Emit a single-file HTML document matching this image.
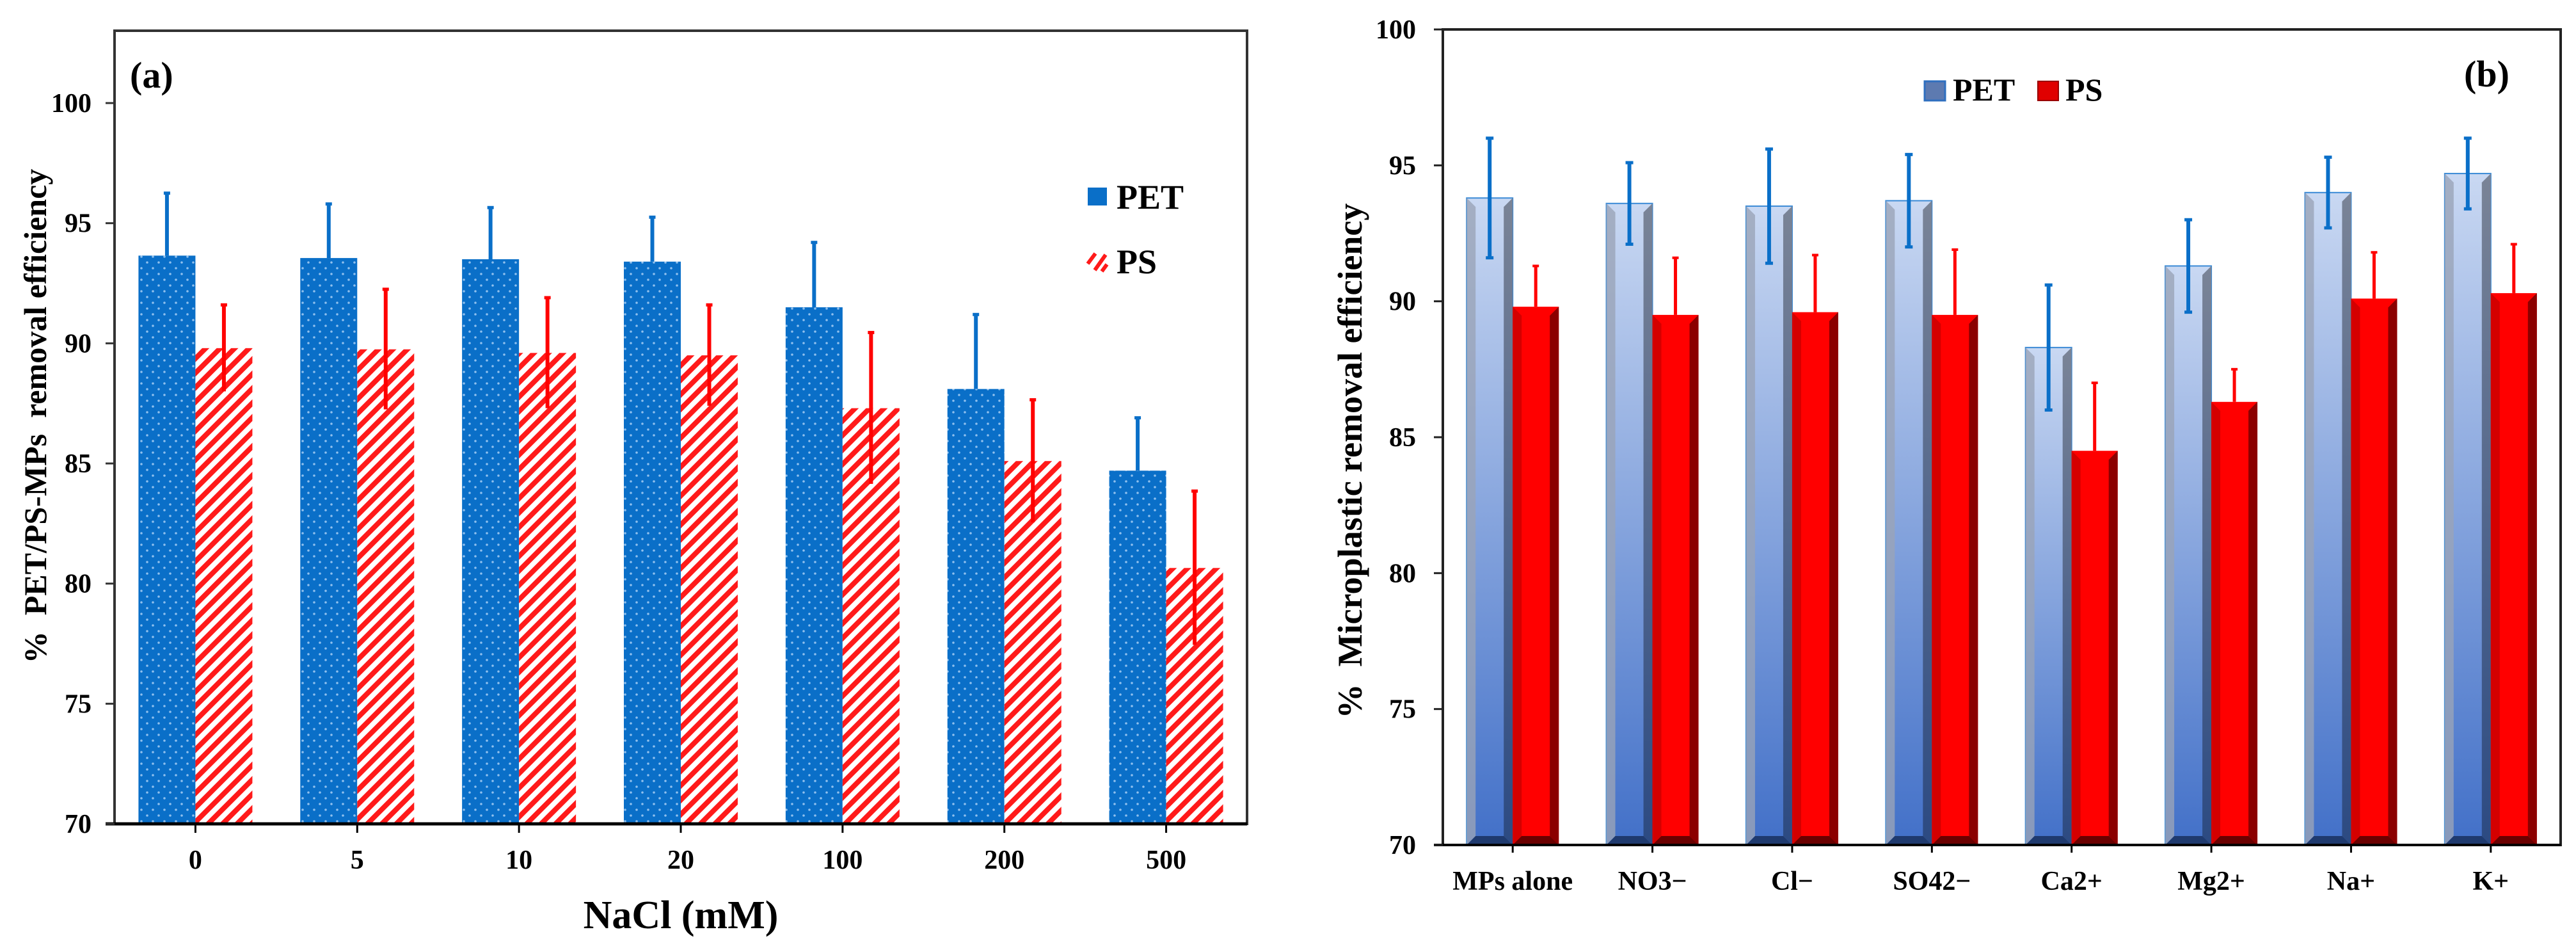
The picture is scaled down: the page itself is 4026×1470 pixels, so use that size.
<!DOCTYPE html>
<html><head><meta charset="utf-8"><style>
html,body{margin:0;padding:0;background:#fff;}
svg{display:block;font-family:"Liberation Serif",serif;font-weight:bold;}
.pre{white-space:pre;}
</style></head><body>
<svg id="fig" xmlns="http://www.w3.org/2000/svg" width="4026" height="1470" viewBox="0 0 4026 1470">
<defs>
<pattern id="dots" width="18" height="18" patternUnits="userSpaceOnUse">
<rect width="18" height="18" fill="#0a6fc8"/>
<circle cx="5" cy="5" r="1.8" fill="#8fc0ee"/><circle cx="14" cy="14" r="1.8" fill="#8fc0ee"/>
</pattern>
<pattern id="hatch" width="16" height="16" patternUnits="userSpaceOnUse" patternTransform="rotate(45)">
<rect width="16" height="16" fill="#fff"/><rect width="8" height="16" fill="#ff1a1a"/>
</pattern>
<linearGradient id="petg" x1="0" y1="0" x2="0" y2="1"><stop offset="0" stop-color="#c9d8f2"/><stop offset="1" stop-color="#4270c8"/></linearGradient>
<linearGradient id="petside" x1="0" y1="0" x2="0" y2="1"><stop offset="0" stop-color="#7a8497"/><stop offset="1" stop-color="#2c4a82"/></linearGradient>
</defs>
<g id="chartA"></g>
<g id="chartB"></g>
</svg>
<script>
const catsA = ["0","5","10","20","100","200","500"];
const petA = [93.65, 93.55, 93.5, 93.4, 91.5, 88.1, 84.7];
const petErrA = [2.6, 2.25, 2.15, 1.85, 2.7, 3.1, 2.2];
const psA = [89.8, 89.75, 89.6, 89.5, 87.3, 85.1, 80.65];
const psErrA = [1.8, 2.5, 2.3, 2.1, 3.15, 2.55, 3.2];
const yTicksA = [70, 75, 80, 85, 90, 95, 100];

const catsB = ["MPs alone","NO3\u2212","Cl\u2212","SO42\u2212","Ca2+","Mg2+","Na+","K+"];
const petB = [93.8, 93.6, 93.5, 93.7, 88.3, 91.3, 94.0, 94.7];
const petErrB = [2.2, 1.5, 2.1, 1.7, 2.3, 1.7, 1.3, 1.3];
const psB = [89.8, 89.5, 89.6, 89.5, 84.5, 86.3, 90.1, 90.3];
const psErrB = [1.5, 2.1, 2.1, 2.4, 2.5, 1.2, 1.7, 1.8];
const yTicksB = [70, 75, 80, 85, 90, 95, 100];

const NS = "http://www.w3.org/2000/svg";
function mk(parent, tag, attrs, text){
  const e = document.createElementNS(NS, tag);
  for (const k in attrs) e.setAttribute(k, attrs[k]);
  if (text !== undefined) e.textContent = text;
  parent.appendChild(e);
  return e;
}

/* ---------- Chart A ---------- */
(function(){
  const g = document.getElementById('chartA');
  const L=179, R=1949, T=48, B=1287;
  const y = v => 1287 - (v-70)*(1287-161)/30;
  const band = (R-L)/catsA.length;
  const cx = i => L + band*(i+0.5);
  const bw = 89;
  catsA.forEach((c,i)=>{
    const x0 = cx(i);
    let r = mk(g,'rect',{x:x0-bw,y:y(petA[i]),width:bw,height:B-y(petA[i]),fill:'url(#dots)'});
    
    
    let e = mk(g,'line',{x1:x0-bw/2,x2:x0-bw/2,y1:y(petA[i]),y2:y(petA[i]+petErrA[i]),stroke:'#0a6fc8','stroke-width':6});
    
    
    mk(g,'line',{x1:x0-bw/2-5,x2:x0-bw/2+5,y1:y(petA[i]+petErrA[i]),y2:y(petA[i]+petErrA[i]),stroke:'#0a6fc8','stroke-width':5});
    r = mk(g,'rect',{x:x0,y:y(psA[i]),width:bw,height:B-y(psA[i]),fill:'url(#hatch)'});
    
    
    e = mk(g,'line',{x1:x0+bw/2,x2:x0+bw/2,y1:y(psA[i]-psErrA[i]),y2:y(psA[i]+psErrA[i]),stroke:'#ff0000','stroke-width':6});
    
    
    mk(g,'line',{x1:x0+bw/2-5,x2:x0+bw/2+5,y1:y(psA[i]+psErrA[i]),y2:y(psA[i]+psErrA[i]),stroke:'#ff0000','stroke-width':5});
    mk(g,'line',{x1:x0,x2:x0,y1:B,y2:B+14,stroke:'#000','stroke-width':3});
    const t = mk(g,'text',{x:x0,y:B+70,'font-size':42,'text-anchor':'middle'},c);
    
    
  });
  const fr = mk(g,'rect',{x:L,y:T,width:R-L,height:B-T,fill:'none',stroke:'#333','stroke-width':4});
  
  
  mk(g,'line',{x1:L-14,x2:R,y1:B,y2:B,stroke:'#000','stroke-width':5});
  yTicksA.forEach(v=>{
    mk(g,'line',{x1:L-14,x2:L,y1:y(v),y2:y(v),stroke:'#333','stroke-width':3});
    const t = mk(g,'text',{x:L-36,y:y(v)+14,'font-size':42,'text-anchor':'end'},String(v));
    
    
  });
})();

/* ---------- Chart B ---------- */
(function(){
  const g = document.getElementById('chartB');
  const L=2255, R=4002, T=46, B=1320;
  const y = v => B - (v-70)*(B-T)/30;
  const band = (R-L)/catsB.length;
  const cx = i => L + band*(i+0.5);
  const bw = 72, sd = 14;
  catsB.forEach((c,i)=>{
    const x0 = cx(i);
    const pt = y(petB[i]);
    let r = mk(g,'rect',{x:x0-bw,y:pt,width:bw,height:B-pt,fill:'url(#petg)',stroke:'#3a8ad6','stroke-width':2});
    
    
    mk(g,'polygon',{points:`${x0-bw},${pt} ${x0-bw+sd},${pt+sd} ${x0-bw+sd},${B-sd} ${x0-bw},${B}`,fill:'#9aa4b8','fill-opacity':0.8});
    mk(g,'polygon',{points:`${x0},${pt} ${x0-sd},${pt+sd} ${x0-sd},${B-sd} ${x0},${B}`,fill:'url(#petside)'});
    mk(g,'polygon',{points:`${x0-bw},${B} ${x0-bw+sd},${B-sd} ${x0-sd},${B-sd} ${x0},${B}`,fill:'#1f3a6e'});
    const st = y(psB[i]);
    r = mk(g,'rect',{x:x0,y:st,width:bw,height:B-st,fill:'#ff0000'});
    
    
    mk(g,'polygon',{points:`${x0},${st} ${x0+sd},${st+sd} ${x0+sd},${B-sd} ${x0},${B}`,fill:'#d40000'});
    mk(g,'polygon',{points:`${x0+bw},${st} ${x0+bw-sd},${st+sd} ${x0+bw-sd},${B-sd} ${x0+bw},${B}`,fill:'#8b0000'});
    mk(g,'polygon',{points:`${x0},${B} ${x0+sd},${B-sd} ${x0+bw-sd},${B-sd} ${x0+bw},${B}`,fill:'#6a0000'});
    const px = x0-bw/2, sx = x0+bw/2;
    let e = mk(g,'line',{x1:px,x2:px,y1:y(petB[i]-petErrB[i]),y2:y(petB[i]+petErrB[i]),stroke:'#0a6fc8','stroke-width':6});
    
    
    mk(g,'line',{x1:px-6,x2:px+6,y1:y(petB[i]+petErrB[i]),y2:y(petB[i]+petErrB[i]),stroke:'#0a6fc8','stroke-width':5});
    mk(g,'line',{x1:px-6,x2:px+6,y1:y(petB[i]-petErrB[i]),y2:y(petB[i]-petErrB[i]),stroke:'#0a6fc8','stroke-width':5});
    e = mk(g,'line',{x1:sx,x2:sx,y1:st,y2:y(psB[i]+psErrB[i]),stroke:'#ff0000','stroke-width':5});
    
    
    mk(g,'line',{x1:sx-5,x2:sx+5,y1:y(psB[i]+psErrB[i]),y2:y(psB[i]+psErrB[i]),stroke:'#ff0000','stroke-width':4});
    mk(g,'line',{x1:x0,x2:x0,y1:B,y2:B+12,stroke:'#000','stroke-width':3});
    const t = mk(g,'text',{x:x0,y:1390,'font-size':42,'text-anchor':'middle'},c);
    
    
  });
  const fr = mk(g,'rect',{x:L,y:T,width:R-L,height:B-T,fill:'none',stroke:'#222','stroke-width':4});
  
  
  mk(g,'line',{x1:L-14,x2:R,y1:B,y2:B,stroke:'#000','stroke-width':4});
  yTicksB.forEach(v=>{
    mk(g,'line',{x1:L-14,x2:L,y1:y(v),y2:y(v),stroke:'#222','stroke-width':3});
    const t = mk(g,'text',{x:L-42,y:y(v)+14,'font-size':42,'text-anchor':'end'},String(v));
    
    
  });
})();
</script>
<svg style="position:absolute;left:0;top:0" width="4026" height="1470">
<g font-family="Liberation Serif, serif" font-weight="bold">
<text x="203" y="137" font-size="58">(a)</text>
<text x="1064" y="1450" font-size="62" text-anchor="middle">NaCl (mM)</text>
<text class="pre" xml:space="preserve" transform="translate(72,650) rotate(-90)" font-size="50" text-anchor="middle">%  PET/PS-MPs  removal efficiency</text>
<rect x="1700" y="293" width="30" height="28" fill="#0a6fc8"/>
<text x="1745" y="326" font-size="54">PET</text>
<g stroke="#ff1a1a" stroke-width="6">
<line x1="1700" y1="412" x2="1712" y2="396"/><line x1="1711" y1="422" x2="1728" y2="398"/><line x1="1722" y1="424" x2="1730" y2="413"/></g>
<text x="1745" y="427" font-size="54">PS</text>

<text x="3851" y="135" font-size="58">(b)</text>
<text class="pre" xml:space="preserve" transform="translate(2128,720) rotate(-90)" font-size="54" text-anchor="middle">%  Microplastic removal efficiency</text>
<rect x="3008" y="127" width="32" height="30" fill="#5d7ab0" stroke="#2f6fbf" stroke-width="3"/>
<text x="3052" y="157" font-size="50">PET</text>
<rect x="3185" y="127" width="32" height="30" fill="#e00000" stroke="#900" stroke-width="2"/>
<text x="3228" y="157" font-size="50">PS</text>
</g>
</svg>
</body></html>
